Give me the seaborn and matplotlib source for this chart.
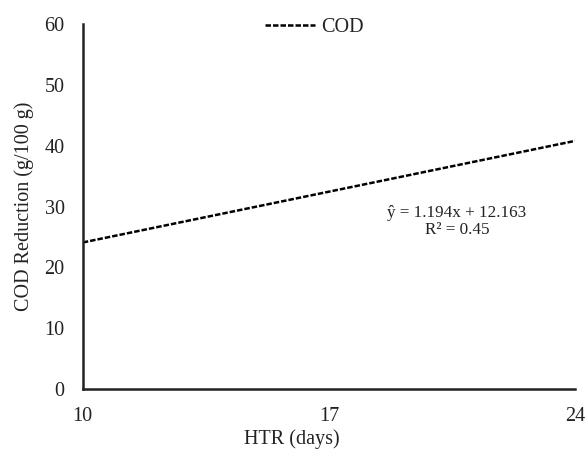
import matplotlib
matplotlib.use("Agg")
import matplotlib.pyplot as plt
import seaborn as sns
import pandas as pd

# values (trend line endpoints)
htr_days = [10, 24]
cod_reduction = [24.1, 40.8]
x_ticks = [10, 17, 24]
y_ticks = [0, 10, 20, 30, 40, 50, 60]

df = pd.DataFrame({"HTR": htr_days, "COD": cod_reduction})

sns.set_style("white")
plt.rcParams['font.family'] = ['Liberation Serif', 'DejaVu Serif']

fig = plt.figure(figsize=(5.87, 4.53), dpi=100)
ax = fig.add_axes([0.141, 0.141, 0.839, 0.806])

sns.lineplot(data=df, x="HTR", y="COD", ax=ax, color="black",
             linestyle=(0, (2.2, 0.8)), linewidth=1.8, label="COD")

ax.set_xlim(10, 24)
ax.set_ylim(0, 60)
ax.set_xticks(x_ticks)
ax.set_yticks(y_ticks)
ax.tick_params(axis='both', length=0, labelsize=14.5, colors="#222222")
ax.tick_params(axis='x', pad=13)
ax.tick_params(axis='y', pad=13)

for s in ["top", "right"]:
    ax.spines[s].set_visible(False)
for s in ["left", "bottom"]:
    ax.spines[s].set_color("#222222")
    ax.spines[s].set_linewidth(1.8)

ax.set_xlabel("HTR (days)", fontsize=14.5, color="#222222")
ax.set_ylabel("COD Reduction (g/100 g)", fontsize=14.5, color="#222222")
ax.xaxis.set_label_coords(0.425, -0.11)
ax.yaxis.set_label_coords(-0.1, 0.5)

ax.text(0.76, 0.46, "ŷ = 1.194x + 12.163\nR² = 0.45", transform=ax.transAxes,
        ha="center", va="center", fontsize=12.3, color="#222222", linespacing=1.1)

leg = ax.legend(loc="upper center", bbox_to_anchor=(0.47, 1.065), frameon=False,
                fontsize=14.5, handlelength=2.5, handletextpad=0.3)
for t in leg.get_texts():
    t.set_color("#222222")

fig.savefig("out.png", dpi=100)
